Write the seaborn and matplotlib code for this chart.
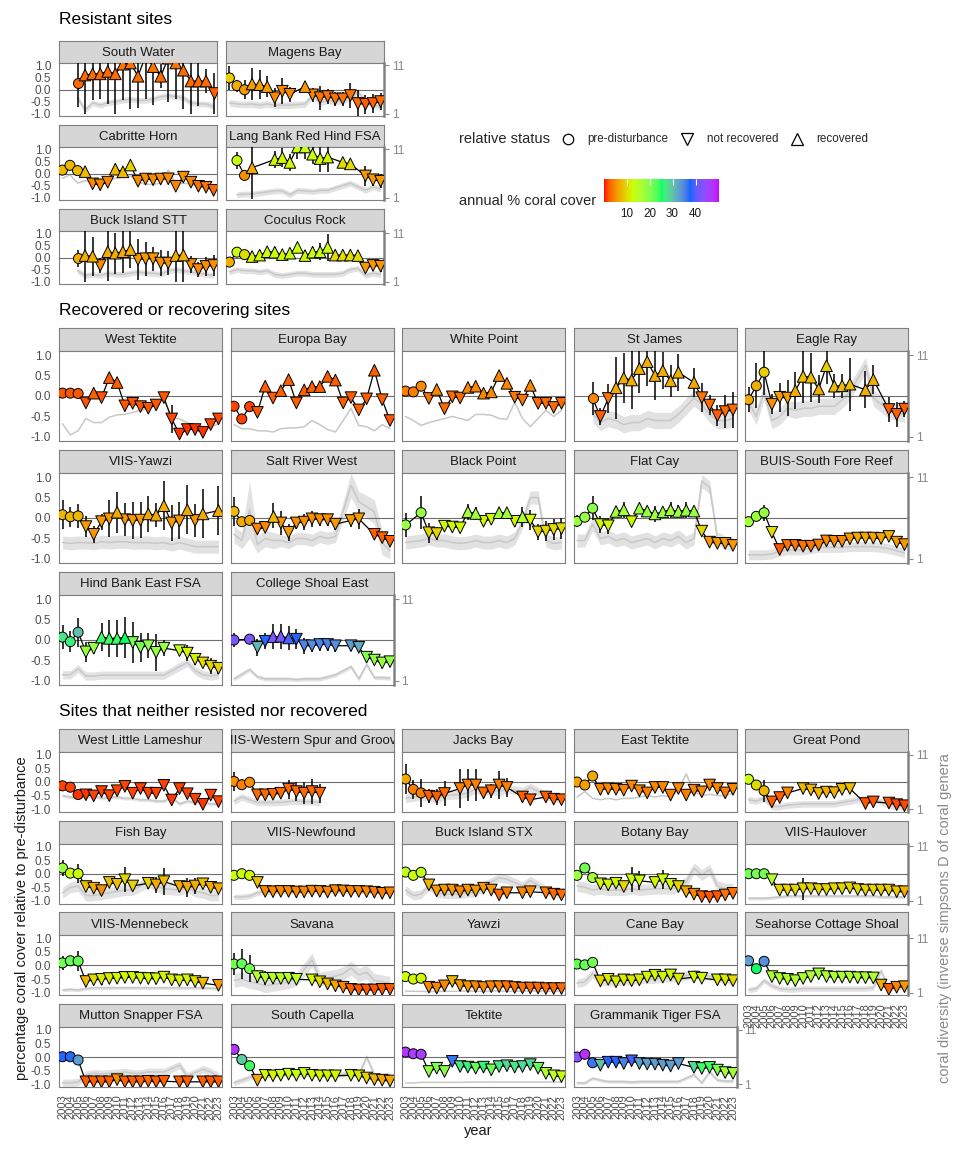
import numpy as np
import pandas as pd
import matplotlib
matplotlib.use("Agg")
import matplotlib.pyplot as plt
import seaborn as sns
from matplotlib.colors import ListedColormap, Normalize

YEARS = list(range(2003, 2024))

# ---------------- data: status per year ('o' pre-disturbance, 'v' not recovered, '^' recovered, '.' no survey)
# rel = coral cover relative to pre-disturbance, err = error bar half-length, cov = annual % coral cover,
# div = coral diversity (inverse Simpson D), dsd = ribbon half-width
# --- Resistant sites
sw_st = ".." "o" "^^^^^^^^^^^^^^^^^" "v"
sw_rel = [0.27, 0.6, 0.65, 0.65, 0.75, 0.65, 1.05, 1.1, 0.55, 1.4, 0.95, 0.55, 1.3, 1.1, 0.8, 0.35, 0.35, 0.35, -0.15]
sw_err = [1.0, 1.6, 1.1, 1.05, 1.35, 1.65, 1.5, 1.9, 1.3, 1.8, 1.6, 0.5, 1.8, 1.5, 1.6, 1.35, 1.05, 0.5, 0.85]
sw_cov = [3, 3, 3, 3, 3, 3, 3.5, 3.5, 3, 3.5, 3.5, 3, 3.5, 3.5, 3, 3, 3, 3, 2.5]
sw_div = [4.25, 1.75, 3.25, 2.75, 3.25, 3.5, 3.75, 4.0, 3.75, 3.75, 4.0, 4.5, 4.75, 4.5, 4.25, 3.25, 3.0, 3.0, 2.5]
sw_dsd = 0.6

mb_st = "ooo" "^^^" "vvv" "." "^" "vvvvvvvvvv"
mb_rel = [0.48, 0.16, -0.01, 0.23, 0.2, 0.12, -0.34, -0.07, -0.2, 0.12, -0.22, -0.34, -0.29, -0.39, -0.39, -0.25, -0.58, -0.61, -0.58, -0.5]
mb_err = [0.5, 0.25, 0.4, 0.65, 0.6, 0.45, 0.4, 0.55, 0.3, 0.15, 0.3, 0.5, 0.3, 0.3, 0.3, 0.5, 0.55, 0.4, 0.4, 0.35]
mb_cov = [9, 7, 5.5, 6, 6, 6, 4.5, 4.5, 4.5, 6, 4.5, 3.5, 3.5, 3.5, 3.5, 3.5, 3, 2.5, 2.5, 3]
mb_div = [3.25, 3.0, 2.9, 3.0, 2.75, 3.0, 2.75, 2.75, 2.75, 3.0, 4.75, 3.25, 3.75, 3.5, 3.75, 4.25, 5.5, 3.5, 3.0, 2.25]
mb_dsd = 0.7

ch_st = "ooo" "^" "vvv" "^^^" "vvvvvvvvvvv"
ch_rel = [0.14, 0.34, 0.12, 0.08, -0.43, -0.47, -0.36, 0.18, 0.07, 0.35, -0.32, -0.23, -0.26, -0.23, -0.22, -0.53, -0.15, -0.36, -0.53, -0.57, -0.7]
ch_err = 0
ch_cov = [7.5, 7.5, 7.5, 8, 4.5, 4.5, 4.5, 7.5, 7.5, 9.5, 5, 5, 5, 5, 5, 4.5, 5, 4.5, 3.5, 3.5, 3]
ch_div = [5.0, 5.75, 4.0, 4.5, 4.25, 4.0, 4.5, 5.0, 5.25, 5.5, 4.25, 3.75, 3.75, 4.0, 6.75, 3.75, 4.0, 3.75, 3.25, 3.25, 3.0]
ch_dsd = 0

lb_st = "." "oo" "^" ".." "^^^^^^^^" "." "^^" "." "vvv"
lb_rel = [0.54, -0.08, 0.24, 0.58, 0.66, 0.46, 1.1, 1.1, 0.8, 0.62, 0.68, 0.46, 0.4, -0.1, -0.26, -0.32]
lb_err = [0.35, 0.2, 1.3, 0.35, 0.4, 0.35, 0.5, 0.5, 0.4, 0.55, 0.6, 0.2, 0.2, 0.4, 0.25, 0.3]
lb_cov = [13, 5, 6.5, 12, 12, 12, 13, 13, 13, 12, 12, 10, 10, 5.5, 5.5, 5.5]
lb_div = [1.6, 1.75, 1.75, 2.4, 2.4, 1.6, 2.5, 2.4, 2.25, 2.5, 2.5, 3.5, 4.0, 2.5, 3.25, 2.75]
lb_dsd = 0.6

bt_st = ".." "o" "^^" "v" "^^^^" "vvvvv" "^^" "vvvv"
bt_rel = [-0.03, 0.08, 0.05, -0.33, 0.24, 0.18, 0.24, 0.33, -0.08, -0.05, -0.05, -0.23, -0.23, 0.08, 0.1, -0.29, -0.5, -0.37, -0.33]
bt_err = [0.35, 1.1, 0.8, 0.3, 1.2, 0.85, 0.9, 0.75, 0.85, 0.7, 0.5, 0.55, 0.5, 1.1, 1.1, 0.35, 0.3, 0.4, 0.45]
bt_cov = [7, 7, 7, 5, 7, 7, 7, 7, 5.5, 5.5, 5.5, 5, 5, 7, 7, 5, 4.5, 5, 5]
bt_div = [3.25, 2.25, 2.5, 2.25, 2.75, 2.5, 2.5, 2.75, 3.0, 2.75, 2.75, 2.5, 3.25, 3.5, 3.25, 3.0, 2.75, 2.5, 2.25]
bt_dsd = 0.6

cr_st = "ooo" "^^^^^^^^^^^^^^^" "vvv"
cr_rel = [-0.19, 0.22, 0.12, 0.04, 0.1, 0.24, 0.22, 0.12, 0.18, 0.42, 0.08, 0.22, 0.24, 0.42, 0.1, 0.1, 0.1, 0.08, -0.44, -0.33, -0.36]
cr_err = [0, 0.15, 0.2, 0.25, 0.2, 0.15, 0.2, 0.15, 0.15, 0.15, 0.25, 0.2, 0.35, 0.55, 0.2, 0.15, 0.1, 0.15, 0.1, 0.2, 0.25]
cr_cov = [7, 13, 10, 12, 12, 13, 13, 12, 13, 13, 12, 13, 13, 13, 10, 10, 10, 10, 5.5, 5.5, 5.5]
cr_div = [3.0, 3.5, 3.25, 3.25, 3.0, 3.25, 2.5, 2.25, 2.5, 2.75, 2.75, 2.5, 2.5, 2.5, 2.5, 2.75, 3.5, 3.75, 2.25, 2.75, 2.5]
cr_dsd = 0.6

# --- Recovered or recovering sites
wt_st = "ooo" "v" "^" "v" "^^" "vvvvvvvvvvvvv"
wt_rel = [0.07, 0.07, 0.06, -0.17, 0.07, -0.04, 0.45, 0.33, -0.24, -0.18, -0.26, -0.3, -0.22, -0.04, -0.56, -0.93, -0.82, -0.82, -0.89, -0.7, -0.56]
wt_err = [0, 0, 0, 0, 0, 0, 0, 0, 0, 0, 0, 0, 0, 0, 0.35, 0, 0, 0, 0, 0, 0]
wt_cov = [2, 2, 2, 2, 2.5, 2, 2.5, 2.5, 2, 2, 2, 2, 2, 2, 1.5, 0.8, 0.8, 0.8, 0.8, 1.5, 1.5]
wt_div = [2.6, 1.25, 1.75, 3.25, 2.75, 2.75, 3.4, 3.7, 3.75, 4.0, 4.25, 4.5, 5.0, 5.6, 3.4, 3.2, 2.75, 2.4, 2.25, 2.25, 2.6]
wt_dsd = 0

eb_st = "ooo" "v" "^" "v" "^^" "v" "^^^^^" "vvvv" "^" "vv"
eb_rel = [-0.25, -0.56, -0.26, -0.4, 0.24, -0.05, 0.13, 0.4, -0.17, 0.15, 0.23, 0.23, 0.48, 0.39, -0.17, -0.04, -0.34, -0.07, 0.63, -0.09, -0.6]
eb_err = 0
eb_cov = [1.2, 1.2, 1.2, 2, 2.5, 2.5, 2.5, 2.5, 2.5, 2.5, 2.5, 2.5, 2.5, 2.5, 2.5, 2.5, 2.5, 2.5, 2.5, 2.5, 2]
eb_div = [2.5, 2.0, 2.0, 1.75, 1.75, 1.6, 2.0, 2.1, 2.1, 2.25, 3.0, 2.5, 1.9, 1.6, 3.0, 4.5, 2.4, 2.25, 1.75, 2.5, 2.0]
eb_dsd = 0

wp_st = "ooo" "v" "^" "vvv" "^^^^^^" "vv" "^" "vvvv"
wp_rel = [0.12, 0.1, 0.24, -0.06, 0.16, -0.31, -0.02, -0.05, 0.21, 0.24, 0.07, 0.1, 0.5, 0.31, -0.03, -0.1, 0.26, -0.18, -0.18, -0.28, -0.18]
wp_err = 0
wp_cov = [4, 4, 4.5, 3.5, 4.5, 3, 3, 3, 4.5, 4.5, 4.5, 4.5, 4.5, 4.5, 3.5, 3.5, 4.5, 3, 3, 3, 3]
wp_div = [3.5, 3.0, 2.4, 2.75, 3.0, 3.25, 3.5, 3.25, 3.0, 3.75, 3.75, 3.65, 3.25, 3.15, 5.25, 3.25, 2.25, 3.25, 4.25, 3.5, 4.25]
wp_dsd = 0

sj_st = ".." "o" "vv" "^^^^^^^^^" "." "^" "vvvvv"
sj_rel = [-0.06, -0.5, -0.06, 0.2, 0.44, 0.39, 0.67, 0.84, 0.5, 0.62, 0.37, 0.58, 0.33, -0.04, -0.22, -0.48, -0.38, -0.34]
sj_err = [0.4, 0.2, 0.35, 0.75, 0.6, 0.7, 0.6, 0.6, 0.6, 0.45, 0.4, 0.45, 0.35, 0.35, 0.25, 0.25, 0.4, 0.45]
sj_cov = [4.5, 2.5, 3.5, 6.5, 7, 7, 7, 7, 7, 7, 7, 7, 6.5, 3.5, 3, 2.5, 3, 3]
sj_div = [3.75, 2.75, 3.25, 3.0, 2.5, 2.75, 2.75, 3.25, 3.0, 3.0, 3.0, 3.75, 5.75, 5.0, 3.75, 3.0, 3.0, 3.25]
sj_dsd = 1.0

er_st = "ooo" "vvv" "^^^^^^^^" "." "^^" "." "vvv"
er_rel = [-0.09, 0.25, 0.58, -0.2, -0.03, -0.05, 0.13, 0.48, 0.46, 0.17, 0.74, 0.24, 0.25, 0.29, 0.15, 0.4, -0.33, -0.45, -0.32]
er_err = [0.3, 0.55, 0.55, 0.25, 0.35, 0.45, 0.45, 0.65, 0.6, 0.35, 0.45, 0.3, 0.3, 0.65, 0.45, 0.35, 0.3, 0.3, 0.2]
er_cov = [6.5, 7, 9, 5, 6, 6, 7, 8, 8, 7, 9, 8, 8, 8, 7, 7, 2.5, 2.5, 2.5]
er_div = [5.25, 3.5, 6.5, 3.0, 3.5, 4.5, 4.25, 4.5, 4.5, 4.75, 4.75, 4.75, 5.5, 6.5, 9.75, 5.75, 4.25, 4.0, 3.75]
er_dsd = 1.0

vy_st = "ooo" "vvvv" "^" "vvv" "^^^" "vv" "^" "v" "^" "." "^"
vy_rel = [0.08, 0.03, 0.05, -0.21, -0.4, -0.09, -0.02, 0.14, -0.04, -0.06, -0.05, 0.1, 0.07, 0.3, -0.12, -0.07, 0.2, -0.06, 0.1, 0.18]
vy_err = [0.35, 0.25, 0.3, 0.25, 0.2, 0.2, 0.45, 0.5, 0.4, 0.45, 0.45, 0.45, 0.3, 0.6, 0.45, 0.45, 0.6, 0.4, 0.6, 0.6]
vy_cov = [7.5, 7.5, 7.5, 5.5, 5.5, 5.5, 5.5, 6.5, 5.5, 5.5, 5.5, 6.5, 6.5, 7, 5.5, 5.5, 6.5, 5.5, 6.5, 6.5]
vy_div = [3.0, 2.9, 3.0, 3.0, 2.9, 3.1, 3.0, 3.1, 3.1, 3.0, 3.0, 3.0, 2.9, 3.0, 2.75, 3.0, 2.75, 2.5, 2.5, 2.5]
vy_dsd = 0.8

srw_st = "ooo" "vv" "^" "vvvvvvvv" "." "vv" "." "vvv"
srw_rel = [0.16, -0.09, -0.06, -0.27, -0.23, 0.06, -0.12, -0.35, -0.12, -0.1, -0.02, -0.04, -0.04, -0.15, -0.06, -0.02, -0.4, -0.48, -0.57]
srw_err = [0.35, 0, 0, 0, 0, 0.3, 0.3, 0.2, 0.15, 0.2, 0.2, 0.15, 0.15, 0.15, 0.15, 0.25, 0, 0, 0]
srw_cov = [7.5, 6.5, 6.5, 4.5, 4.5, 7.5, 5.5, 5.5, 5, 5, 5, 5, 5, 5.5, 5.5, 5.5, 2.5, 2.5, 2.5]
srw_div = [4.0, 3.25, 7.0, 2.75, 3.5, 3.25, 3.25, 3.0, 3.5, 3.5, 3.25, 3.75, 3.5, 3.75, 10.0, 8.0, 6.75, 3.0, 2.0]
srw_dsd = [1.0, 1.0, 3.5, 1.0, 1.0, 1.0, 0.75, 0.75, 0.75, 0.75, 0.75, 0.75, 0.75, 0.75, 1.5, 1.25, 1.5, 1.5, 1.0]

bp_st = "o" "." "o" "vvvvv" "^^" "vv" "^^" "v" "^" "vvvvv"
bp_rel = [-0.17, 0.13, -0.36, -0.38, -0.2, -0.22, -0.24, 0.15, 0.11, -0.08, -0.03, 0.13, 0.13, -0.08, 0.03, -0.05, -0.34, -0.32, -0.28, -0.26]
bp_err = [0.3, 0.4, 0.25, 0.15, 0.1, 0.1, 0.05, 0.2, 0.15, 0.1, 0.1, 0.15, 0.1, 0.15, 0.25, 0.25, 0.2, 0.25, 0.25, 0.25]
bp_cov = [18, 18, 9.5, 9.5, 12, 12, 12, 17, 17, 12, 12, 17, 17, 12, 16, 12, 9.5, 9.5, 10, 10]
bp_div = [3.0, 3.25, 3.5, 3.25, 3.25, 3.0, 2.9, 3.0, 3.25, 3.0, 3.0, 3.25, 3.0, 3.5, 5.5, 8.5, 8.5, 3.25, 2.9, 3.0]
bp_dsd = 0.8

fc_st = "ooo" "vv" "^^" "v" "^^^^^^^^" "vvvvv"
fc_rel = [-0.08, 0.02, 0.24, -0.16, -0.19, 0.16, 0.2, -0.09, 0.24, 0.17, 0.1, 0.15, 0.2, 0.16, 0.19, 0.17, -0.32, -0.59, -0.62, -0.62, -0.67]
fc_err = [0.15, 0.1, 0.3, 0.2, 0.2, 0.1, 0.2, 0.1, 0.1, 0.1, 0.2, 0.1, 0.2, 0.15, 0.2, 0.1, 0.1, 0.05, 0.05, 0.05, 0.05]
fc_cov = [18, 18, 19, 12, 12, 17, 17, 12, 18, 18, 17, 18, 17, 18, 18, 18, 9.5, 5.5, 5.5, 5.5, 5.5]
fc_div = [3.25, 3.25, 5.25, 3.5, 3.75, 3.25, 3.5, 3.0, 3.25, 3.5, 3.0, 3.5, 3.25, 3.75, 3.0, 3.5, 10.5, 9.75, 3.5, 3.0, 2.75]
fc_dsd = 0.8

bs_st = "ooo" "vvvvvvvvvvvvvvvvvv"
bs_rel = [-0.09, 0.04, 0.13, -0.35, -0.77, -0.67, -0.67, -0.69, -0.69, -0.66, -0.56, -0.57, -0.57, -0.51, -0.49, -0.49, -0.49, -0.5, -0.45, -0.59, -0.65]
bs_err = [0, 0.12, 0.2, 0.15, 0.1, 0.1, 0.1, 0.1, 0.1, 0.08, 0.08, 0.08, 0.08, 0.1, 0.1, 0.1, 0.1, 0.1, 0.08, 0.08, 0.05]
bs_cov = [17, 18, 18, 10, 2, 3.5, 3.5, 3.5, 3.5, 4, 4.5, 4.5, 4.5, 5.5, 6.5, 6.5, 6.5, 6.5, 7, 5.5, 5.5]
bs_div = [1.5, 1.5, 1.5, 1.6, 1.9, 2.1, 2.1, 2.1, 2.25, 2.4, 2.4, 2.4, 2.4, 2.5, 2.5, 2.5, 2.5, 2.4, 2.25, 2.0, 1.75]
bs_dsd = 0.6

hb_st = "ooo" "vv" "^^^^" "vvvvv" "." "vvvvvv"
hb_rel = [0.07, -0.04, 0.19, -0.29, -0.2, 0.07, 0.04, 0.04, 0.06, -0.06, -0.18, -0.14, -0.3, -0.2, -0.26, -0.32, -0.47, -0.56, -0.64, -0.69]
hb_err = [0.3, 0.25, 0.35, 0.25, 0.15, 0.35, 0.45, 0.45, 0.5, 0.5, 0.35, 0.3, 0.45, 0.2, 0.1, 0.2, 0.15, 0.1, 0.2, 0.15]
hb_cov = [27, 26, 30, 18, 18, 24, 24, 24, 25, 21, 21, 19, 18, 18, 14, 12, 11.5, 10, 9.5, 9.5]
hb_div = [1.75, 1.75, 2.5, 1.6, 1.6, 1.7, 1.7, 1.7, 1.7, 1.7, 1.7, 1.7, 1.7, 1.7, 2.75, 3.25, 2.25, 1.75, 1.6, 1.75]
hb_dsd = 0.5

cs_st = "o" "." "o" "vv" "^^^" "vvvvvv" "." "vvvvvv"
cs_rel = [0.0, 0.02, -0.18, -0.03, 0.08, 0.09, 0.05, 0.02, -0.14, -0.14, -0.11, -0.11, -0.14, -0.14, -0.18, -0.42, -0.49, -0.56, -0.53]
cs_err = [0.18, 0, 0.2, 0.2, 0.3, 0.3, 0.3, 0.25, 0.2, 0.15, 0.15, 0.15, 0.15, 0.1, 0.1, 0.05, 0.05, 0.05, 0.05]
cs_cov = [42, 42, 31, 37, 42, 42, 39, 38, 35, 34, 35, 35, 34, 33, 32, 20, 19, 18, 19]
cs_div = [1.25, 2.4, 1.5, 1.25, 1.25, 1.25, 1.25, 1.15, 1.25, 1.25, 1.25, 1.5, 1.75, 2.75, 1.25, 3.0, 1.4, 1.4, 1.35]
cs_dsd = 0.25

# --- Sites that neither resisted nor recovered
wl_st = "ooo" "vvvvvvvvvvvvvvvvvv"
wl_rel = [-0.14, -0.19, -0.46, -0.47, -0.51, -0.35, -0.5, -0.32, -0.16, -0.41, -0.24, -0.41, -0.41, -0.12, -0.66, -0.24, -0.43, -0.63, -0.82, -0.48, -0.72]
wl_err = 0
wl_cov = [1.2, 1.2, 0.8, 0.8, 1.2, 1.2, 1.2, 1.2, 1.2, 1.2, 1.2, 1.2, 1.2, 1.2, 0.8, 1.2, 1.2, 1.2, 0.8, 1.2, 1.2]
wl_div = [3.5, 3.25, 3.25, 3.25, 3.5, 3.0, 3.25, 3.25, 3.0, 3.0, 2.75, 2.75, 2.5, 2.5, 3.25, 2.0, 2.5, 2.25, 2.25, 2.0, 2.0]
wl_dsd = 0.3

ws_st = "ooo" "vvvvvvvvv" "........."
ws_rel = [0.02, -0.1, -0.01, -0.47, -0.47, -0.45, -0.41, -0.26, -0.35, -0.41, -0.35, -0.41]
ws_err = [0.35, 0.2, 0.1, 0.05, 0.05, 0.1, 0.15, 0.35, 0.35, 0.4, 0.45, 0.35]
ws_cov = [5, 4, 5, 3, 3, 3, 3, 3, 3, 3, 3, 3]
ws_div = [2.5, 3.25, 2.75, 2.25, 2.25, 2.25, 2.25, 2.4, 2.5, 2.4, 2.4, 2.25]
ws_dsd = 0.6

jb_st = "ooo" "vvv" "." "vvvvvvv" "." "vv" "." "vvv"
jb_rel = [0.11, -0.27, -0.4, -0.52, -0.55, -0.42, -0.24, -0.11, -0.11, -0.4, -0.32, -0.11, -0.2, -0.55, -0.65, -0.55, -0.63, -0.65]
jb_err = [0.55, 0.35, 0.5, 0.25, 0.3, 0.45, 0.7, 0.6, 0.6, 0.2, 0.25, 0.5, 0.35, 0.2, 0.1, 0.15, 0.1, 0.1]
jb_cov = [6.5, 4, 4, 2.5, 2.5, 3, 4, 4, 4, 3, 3, 4, 4, 2.5, 2.5, 2.5, 2.5, 2.5]
jb_div = [3.0, 3.25, 3.5, 3.25, 3.0, 3.5, 3.75, 4.0, 4.75, 4.25, 4.5, 4.25, 4.75, 4.25, 5.0, 3.5, 3.25, 3.0]
jb_dsd = 0.8

et_st = "ooo" "vvvvvvvvvvvvvvvvvv"
et_rel = [0.0, -0.11, 0.22, -0.27, -0.25, -0.27, -0.3, -0.15, -0.32, -0.4, -0.2, -0.2, -0.48, -0.24, -0.48, -0.3, -0.36, -0.11, -0.24, -0.4, -0.27]
et_err = 0
et_cov = [6, 6, 6.5, 4.5, 4.5, 4.5, 4.5, 4.5, 4.5, 4, 4.5, 4.5, 4, 4.5, 4, 4.5, 4.5, 4.5, 4.5, 4, 4.5]
et_div = [3.25, 4.25, 3.0, 2.75, 3.0, 2.75, 3.0, 3.0, 3.25, 3.5, 3.25, 3.5, 3.25, 4.5, 7.5, 4.25, 3.5, 3.75, 3.5, 3.5, 4.0]
et_dsd = 0

gp_st = "ooo" "vvv" "." "vvvvvvv" "." "vv" "." "vvv"
gp_rel = [0.1, -0.11, -0.32, -0.73, -0.57, -0.4, -0.24, -0.29, -0.42, -0.37, -0.39, -0.27, -0.24, -0.79, -0.73, -0.77, -0.83, -0.87]
gp_err = [0, 0, 0.4, 0, 0, 0, 0.15, 0, 0, 0, 0, 0, 0.15, 0, 0.15, 0.1, 0, 0]
gp_cov = [13, 10, 7.5, 2.5, 2.5, 4.5, 7.5, 7.5, 7.5, 7, 7, 8, 8, 2, 2, 2, 1.5, 1.5]
gp_div = [2.75, 2.5, 3.0, 1.5, 1.5, 1.75, 2.0, 2.0, 2.0, 2.0, 2.0, 2.25, 2.5, 3.0, 3.0, 1.75, 1.5, 1.5]
gp_dsd = 0.6

fb_st = "ooo" "vvvvvvv" "." "vvv" "." "vvvvvv"
fb_rel = [0.21, 0.02, 0.0, -0.47, -0.53, -0.62, -0.32, -0.39, -0.22, -0.45, -0.35, -0.41, -0.29, -0.47, -0.5, -0.45, -0.37, -0.5, -0.55]
fb_err = [0.3, 0, 0.35, 0.1, 0.1, 0.15, 0.15, 0.1, 0.45, 0.15, 0.2, 0.3, 0.5, 0.2, 0.35, 0.3, 0.2, 0.1, 0.1]
fb_cov = [18, 13, 13, 8, 7, 5, 8, 8, 9.5, 9.5, 9.5, 6.5, 8, 7, 7, 7, 8, 7, 7]
fb_div = [2.5, 3.5, 3.75, 2.0, 2.0, 2.25, 2.5, 2.75, 3.0, 3.0, 4.5, 3.75, 3.25, 3.0, 3.5, 2.75, 2.5, 2.0, 2.0]
fb_dsd = 1.0

vn_st = "ooo" "vvvvvvvvvvvvvvvvvv"
vn_rel = [-0.06, 0.0, -0.06, -0.32, -0.65, -0.66, -0.65, -0.65, -0.67, -0.67, -0.64, -0.65, -0.67, -0.62, -0.63, -0.65, -0.65, -0.66, -0.68, -0.72, -0.7]
vn_err = [0, 0, 0, 0.05, 0.05, 0.05, 0.05, 0.05, 0.05, 0.05, 0.05, 0.05, 0.05, 0.05, 0.05, 0.05, 0.05, 0.05, 0.05, 0.05, 0.05]
vn_cov = [13, 13, 12, 8, 4.5, 4.5, 4.5, 4.5, 4.5, 4.5, 4.5, 4.5, 4.5, 4.5, 4.5, 4.5, 4.5, 4.5, 4, 4, 4]
vn_div = [1.75, 1.75, 1.9, 2.5, 2.75, 2.75, 2.9, 2.9, 2.9, 2.9, 2.9, 2.9, 3.0, 2.9, 2.9, 2.9, 2.9, 2.9, 2.75, 2.75, 2.6]
vn_dsd = 0.5

bx_st = "ooo" "vvvvvvvvvvv" "." "vv" "." "vvv"
bx_rel = [0.06, -0.06, 0.05, -0.41, -0.63, -0.6, -0.6, -0.66, -0.6, -0.63, -0.53, -0.6, -0.78, -0.7, -0.7, -0.66, -0.7, -0.75, -0.78]
bx_err = [0, 0, 0, 0.06, 0.06, 0.06, 0.06, 0.06, 0.06, 0.06, 0.06, 0.06, 0.06, 0.06, 0.06, 0.06, 0.06, 0.06, 0.06]
bx_cov = [14, 13, 14, 7.5, 5.5, 5.5, 5.5, 4.5, 5.5, 5.5, 5.5, 5.5, 3, 4, 4.5, 4.5, 4, 3, 3]
bx_div = [3.0, 2.0, 2.25, 3.75, 2.5, 2.25, 2.25, 2.25, 2.5, 2.5, 3.75, 4.5, 5.25, 5.0, 3.75, 4.75, 3.0, 2.5, 2.25]
bx_dsd = 0.8

bb_st = "ooo" "vvvvvv" "." "vvvvvvvvvvv"
bb_rel = [-0.06, 0.21, -0.14, -0.37, -0.41, -0.35, -0.47, -0.22, -0.26, -0.32, -0.22, -0.39, -0.47, -0.66, -0.75, -0.84, -0.86, -0.84, -0.78, -0.72]
bb_err = [0, 0, 0, 0.05, 0.05, 0.05, 0.05, 0.45, 0.35, 0.1, 0.35, 0.1, 0.1, 0.05, 0.05, 0.05, 0.05, 0.05, 0.05, 0.05]
bb_cov = [18, 21, 17, 12, 12, 12, 9.5, 13, 13, 12, 13, 12, 9.5, 6.5, 4.5, 2.5, 2, 2, 3.5, 3.5]
bb_div = [3.75, 3.5, 3.0, 3.25, 3.0, 3.0, 3.0, 3.25, 3.0, 3.25, 3.25, 3.25, 3.5, 4.5, 7.0, 5.75, 6.75, 3.75, 3.25, 3.25]
bb_dsd = 1.0

vh_st = "ooo" "vvvvvvvvvvvvvvvvvv"
vh_rel = [0.0, 0.0, 0.0, -0.22, -0.6, -0.6, -0.6, -0.55, -0.55, -0.58, -0.58, -0.55, -0.55, -0.52, -0.58, -0.6, -0.6, -0.6, -0.6, -0.66, -0.66]
vh_err = [0, 0, 0, 0, 0.05, 0.05, 0.05, 0.4, 0.1, 0.1, 0.1, 0.1, 0.1, 0.05, 0.05, 0.05, 0.05, 0.05, 0.05, 0.05, 0.1]
vh_cov = [21, 21, 21, 16, 9.5, 9.5, 9.5, 9.5, 9.5, 9.5, 9.5, 9.5, 9.5, 9.5, 9.5, 9.5, 9.5, 9, 9, 8.5, 7]
vh_div = [1.5, 1.5, 1.5, 1.6, 1.75, 1.9, 1.9, 1.9, 1.9, 1.9, 1.9, 1.9, 1.9, 1.9, 1.9, 1.9, 1.9, 1.75, 1.75, 1.75, 1.75]
vh_dsd = 0.3

vm_st = "ooo" "vvvvvvvvvvvvvvvv" "." "v"
vm_rel = [0.09, 0.17, 0.16, -0.59, -0.53, -0.51, -0.48, -0.47, -0.44, -0.44, -0.47, -0.48, -0.49, -0.43, -0.53, -0.56, -0.53, -0.59, -0.65, -0.73]
vm_err = [0.25, 0, 0.35, 0.05, 0.15, 0.2, 0.15, 0.1, 0.1, 0.1, 0.1, 0.1, 0.1, 0.15, 0.1, 0.1, 0.1, 0.1, 0.05, 0.05]
vm_cov = [21, 22, 22, 7.5, 10, 11, 11, 12, 12, 12, 12, 12, 12, 12, 11, 12, 12, 10, 7.5, 5.5]
vm_div = [1.5, 1.6, 1.5, 1.75, 1.9, 1.9, 1.9, 1.9, 1.9, 1.9, 1.9, 1.9, 1.9, 1.9, 1.9, 1.9, 1.9, 1.9, 1.9, 1.75]
vm_dsd = 0.3

sv_st = "ooo" "vvvvvv" "." "vvvvvvvvvvv"
sv_rel = [0.05, 0.06, -0.12, -0.41, -0.47, -0.47, -0.48, -0.47, -0.51, -0.53, -0.6, -0.68, -0.75, -0.8, -0.88, -0.9, -0.9, -0.9, -0.88, -0.88]
sv_err = [0.4, 0.55, 0.5, 0.25, 0.25, 0.2, 0.1, 0.1, 0.1, 0.15, 0.05, 0.05, 0.05, 0.05, 0.05, 0.05, 0.05, 0.05, 0.05, 0.05]
sv_cov = [21, 22, 21, 15, 15, 15, 15, 15, 15, 12, 10, 7.5, 6.5, 4.5, 2.5, 2, 2, 2, 2, 2]
sv_div = [3.25, 3.5, 3.0, 2.75, 2.25, 2.5, 2.75, 3.0, 3.5, 7.0, 3.5, 3.75, 4.0, 4.5, 5.5, 4.25, 4.75, 3.25, 3.0, 2.75]
sv_dsd = 1.25

yz_st = "ooo" "vvvvvvvvvvvvvvvvvv"
yz_rel = [-0.41, -0.5, -0.47, -0.8, -0.83, -0.75, -0.59, -0.74, -0.78, -0.78, -0.81, -0.78, -0.78, -0.78, -0.81, -0.83, -0.83, -0.83, -0.85, -0.85, -0.85]
yz_err = 0
yz_cov = [13, 12, 12, 4.5, 4.5, 4.5, 7.5, 5.5, 5.5, 4.5, 4.5, 4.5, 4.5, 3.5, 3.5, 3.5, 3, 3, 3, 3, 3]
yz_div = [1.3, 1.25, 1.25, 1.2, 1.2, 1.25, 1.25, 1.3, 1.3, 1.25, 1.25, 1.3, 1.3, 1.25, 1.25, 1.3, 1.3, 1.25, 1.25, 1.3, 1.3]
yz_dsd = 0

cb_st = "ooo" "vvvvvvvvvvv" "." "vv" "." "vvv"
cb_rel = [0.05, 0.02, 0.11, -0.57, -0.51, -0.6, -0.53, -0.56, -0.53, -0.43, -0.36, -0.43, -0.35, -0.5, -0.43, -0.47, -0.53, -0.53, -0.56]
cb_err = [0, 0, 0.15, 0.05, 0.05, 0.05, 0.05, 0.05, 0.05, 0.05, 0.1, 0.1, 0.15, 0.15, 0.05, 0.05, 0.05, 0.05, 0.1]
cb_cov = [22, 22, 21, 9.5, 11, 11, 11, 11, 11, 12, 12, 12, 12, 11, 12, 12, 11, 11, 9.5]
cb_div = [2.75, 3.0, 4.5, 3.25, 3.0, 3.0, 3.25, 3.25, 3.5, 3.5, 3.5, 3.75, 3.75, 3.75, 4.5, 4.25, 3.75, 3.5, 3.25]
cb_dsd = 0.8

sc_st = "ooo" "vvvvvvvvvvvvvvvvvv"
sc_rel = [0.17, -0.12, 0.15, -0.41, -0.48, -0.51, -0.56, -0.48, -0.41, -0.31, -0.41, -0.43, -0.43, -0.43, -0.45, -0.45, -0.46, -0.72, -0.88, -0.8, -0.78]
sc_err = [0, 0, 0.15, 0.05, 0.05, 0.05, 0.05, 0.05, 0.05, 0.05, 0.05, 0.05, 0.05, 0.05, 0.05, 0.05, 0.05, 0.05, 0.05, 0.05, 0.05]
sc_cov = [33, 25, 34, 16, 16, 16, 16, 16, 16, 17, 16, 16, 16, 16, 16, 16, 16, 7, 2.5, 4.5, 5.5]
sc_div = [1.5, 1.75, 3.25, 2.25, 1.75, 1.6, 1.6, 1.75, 1.75, 1.75, 1.75, 1.75, 1.75, 1.75, 1.75, 1.75, 1.9, 5.0, 1.75, 2.0, 2.25]
sc_dsd = 0.5

ms_st = "ooo" "vvvvvvvvvvv" "." "vv" "." "vvv"
ms_rel = [0.01, 0.01, -0.11, -0.91, -0.91, -0.91, -0.91, -0.83, -0.91, -0.91, -0.91, -0.89, -0.91, -0.89, -0.91, -0.91, -0.91, -0.91, -0.91]
ms_err = [0, 0, 0, 0.04, 0.04, 0.04, 0.04, 0.04, 0.04, 0.04, 0.04, 0.04, 0.04, 0.04, 0.04, 0.04, 0.04, 0.04, 0.04]
ms_cov = [38, 37, 33, 2.5, 2.5, 2.5, 2.5, 5, 2.5, 2.5, 2.5, 3, 2.5, 2.5, 2.5, 2.5, 2.5, 2, 2.5]
ms_div = [1.25, 1.25, 1.4, 2.75, 3.0, 2.9, 3.0, 3.1, 3.25, 3.0, 3.0, 3.25, 3.25, 3.25, 4.5, 2.5, 3.75, 3.25, 2.5]
ms_dsd = 0.7

sp_st = "ooo" "vvvvvvvvvvv" "." "vvvvvv"
sp_rel = [0.28, -0.09, -0.32, -0.85, -0.67, -0.69, -0.67, -0.63, -0.67, -0.6, -0.67, -0.69, -0.69, -0.69, -0.67, -0.69, -0.77, -0.83, -0.85, -0.88]
sp_err = [0, 0, 0, 0.05, 0.05, 0.05, 0.05, 0.05, 0.05, 0.05, 0.05, 0.05, 0.05, 0.05, 0.05, 0.05, 0.05, 0.05, 0.05, 0.05]
sp_cov = [47, 29, 24, 6.5, 12, 12, 13, 13, 13, 13, 12, 12, 12, 12, 12, 11, 9.5, 7.5, 6.5, 6.5]
sp_div = [1.25, 1.75, 2.25, 2.5, 2.75, 2.75, 2.9, 2.9, 2.9, 2.9, 2.9, 2.75, 2.75, 2.75, 2.9, 2.75, 6.0, 2.75, 2.5, 2.75]
sp_dsd = 0.5

tk_st = "ooo" "vvvvvvvvvvvvvvvvvv"
tk_rel = [0.18, 0.12, 0.1, -0.53, -0.41, -0.53, -0.16, -0.35, -0.37, -0.41, -0.37, -0.47, -0.35, -0.32, -0.37, -0.35, -0.28, -0.41, -0.6, -0.69, -0.72]
tk_err = 0
tk_cov = [47, 46, 46, 19, 20, 19, 36, 27, 26, 22, 26, 22, 27, 28, 27, 28, 28, 22, 15, 14, 13]
tk_div = [1.25, 1.25, 1.35, 1.35, 1.35, 1.35, 1.35, 1.35, 1.4, 1.4, 1.4, 1.4, 1.4, 1.4, 1.4, 1.4, 1.4, 1.4, 1.4, 1.4, 1.4]
tk_dsd = 0

gt_st = "ooo" "vvvvvvvvvvv" "." "vvvvvv"
gt_rel = [0.0, 0.1, -0.21, -0.3, -0.19, -0.19, -0.24, -0.14, -0.24, -0.26, -0.26, -0.3, -0.33, -0.24, -0.38, -0.42, -0.38, -0.48, -0.57, -0.6]
gt_err = [0, 0, 0.1, 0.05, 0.05, 0.05, 0.05, 0.05, 0.05, 0.05, 0.05, 0.05, 0.05, 0.05, 0.05, 0.05, 0.05, 0.05, 0.05, 0.05]
gt_cov = [43, 48, 36, 30, 38, 38, 35, 39, 33, 33, 33, 33, 33, 33, 28, 24, 24, 20, 17, 17]
gt_div = [1.25, 1.25, 2.1, 1.75, 1.5, 1.5, 1.5, 1.4, 1.5, 1.5, 1.5, 1.5, 1.5, 1.5, 2.75, 1.25, 3.25, 1.75, 1.6, 1.6]
gt_dsd = 0.3

SECTION_TITLES = ["Resistant sites", "Recovered or recovering sites", "Sites that neither resisted nor recovered"]
SEC1_ROWS = [["South Water", "Magens Bay"], ["Cabritte Horn", "Lang Bank Red Hind FSA"], ["Buck Island STT", "Coculus Rock"]]
SEC2_ROWS = [["West Tektite", "Europa Bay", "White Point", "St James", "Eagle Ray"],
             ["VIIS-Yawzi", "Salt River West", "Black Point", "Flat Cay", "BUIS-South Fore Reef"],
             ["Hind Bank East FSA", "College Shoal East"]]
SEC3_ROWS = [["West Little Lameshur", "VIIS-Western Spur and Groove", "Jacks Bay", "East Tektite", "Great Pond"],
             ["Fish Bay", "VIIS-Newfound", "Buck Island STX", "Botany Bay", "VIIS-Haulover"],
             ["VIIS-Mennebeck", "Savana", "Yawzi", "Cane Bay", "Seahorse Cottage Shoal"],
             ["Mutton Snapper FSA", "South Capella", "Tektite", "Grammanik Tiger FSA"]]
STATUS_LABELS = ["pre-disturbance", "not recovered", "recovered"]
CB_TICKS = [10, 20, 30, 40]

SITE_VARS = {
    "South Water": (sw_st, sw_rel, sw_err, sw_cov, sw_div, sw_dsd),
    "Magens Bay": (mb_st, mb_rel, mb_err, mb_cov, mb_div, mb_dsd),
    "Cabritte Horn": (ch_st, ch_rel, ch_err, ch_cov, ch_div, ch_dsd),
    "Lang Bank Red Hind FSA": (lb_st, lb_rel, lb_err, lb_cov, lb_div, lb_dsd),
    "Buck Island STT": (bt_st, bt_rel, bt_err, bt_cov, bt_div, bt_dsd),
    "Coculus Rock": (cr_st, cr_rel, cr_err, cr_cov, cr_div, cr_dsd),
    "West Tektite": (wt_st, wt_rel, wt_err, wt_cov, wt_div, wt_dsd),
    "Europa Bay": (eb_st, eb_rel, eb_err, eb_cov, eb_div, eb_dsd),
    "White Point": (wp_st, wp_rel, wp_err, wp_cov, wp_div, wp_dsd),
    "St James": (sj_st, sj_rel, sj_err, sj_cov, sj_div, sj_dsd),
    "Eagle Ray": (er_st, er_rel, er_err, er_cov, er_div, er_dsd),
    "VIIS-Yawzi": (vy_st, vy_rel, vy_err, vy_cov, vy_div, vy_dsd),
    "Salt River West": (srw_st, srw_rel, srw_err, srw_cov, srw_div, srw_dsd),
    "Black Point": (bp_st, bp_rel, bp_err, bp_cov, bp_div, bp_dsd),
    "Flat Cay": (fc_st, fc_rel, fc_err, fc_cov, fc_div, fc_dsd),
    "BUIS-South Fore Reef": (bs_st, bs_rel, bs_err, bs_cov, bs_div, bs_dsd),
    "Hind Bank East FSA": (hb_st, hb_rel, hb_err, hb_cov, hb_div, hb_dsd),
    "College Shoal East": (cs_st, cs_rel, cs_err, cs_cov, cs_div, cs_dsd),
    "West Little Lameshur": (wl_st, wl_rel, wl_err, wl_cov, wl_div, wl_dsd),
    "VIIS-Western Spur and Groove": (ws_st, ws_rel, ws_err, ws_cov, ws_div, ws_dsd),
    "Jacks Bay": (jb_st, jb_rel, jb_err, jb_cov, jb_div, jb_dsd),
    "East Tektite": (et_st, et_rel, et_err, et_cov, et_div, et_dsd),
    "Great Pond": (gp_st, gp_rel, gp_err, gp_cov, gp_div, gp_dsd),
    "Fish Bay": (fb_st, fb_rel, fb_err, fb_cov, fb_div, fb_dsd),
    "VIIS-Newfound": (vn_st, vn_rel, vn_err, vn_cov, vn_div, vn_dsd),
    "Buck Island STX": (bx_st, bx_rel, bx_err, bx_cov, bx_div, bx_dsd),
    "Botany Bay": (bb_st, bb_rel, bb_err, bb_cov, bb_div, bb_dsd),
    "VIIS-Haulover": (vh_st, vh_rel, vh_err, vh_cov, vh_div, vh_dsd),
    "VIIS-Mennebeck": (vm_st, vm_rel, vm_err, vm_cov, vm_div, vm_dsd),
    "Savana": (sv_st, sv_rel, sv_err, sv_cov, sv_div, sv_dsd),
    "Yawzi": (yz_st, yz_rel, yz_err, yz_cov, yz_div, yz_dsd),
    "Cane Bay": (cb_st, cb_rel, cb_err, cb_cov, cb_div, cb_dsd),
    "Seahorse Cottage Shoal": (sc_st, sc_rel, sc_err, sc_cov, sc_div, sc_dsd),
    "Mutton Snapper FSA": (ms_st, ms_rel, ms_err, ms_cov, ms_div, ms_dsd),
    "South Capella": (sp_st, sp_rel, sp_err, sp_cov, sp_div, sp_dsd),
    "Tektite": (tk_st, tk_rel, tk_err, tk_cov, tk_div, tk_dsd),
    "Grammanik Tiger FSA": (gt_st, gt_rel, gt_err, gt_cov, gt_div, gt_dsd),
}

# ---------------- build long table
problems = []
rows = []
for name, (st, rel, err, cov, div, dsd) in SITE_VARS.items():
    yrs = [y for y, ch in zip(YEARS, st) if ch != "."]
    sts = [ch for ch in st if ch != "."]
    n = len(yrs)
    if len(st) != 21:
        problems.append(f"{name}: status len {len(st)}")
    def full(v):
        if np.isscalar(v):
            return [v] * n
        return list(v)
    rel_l, err_l, cov_l, div_l, dsd_l = full(rel), full(err), full(cov), full(div), full(dsd)
    for lab, l in [("rel", rel_l), ("err", err_l), ("cov", cov_l), ("div", div_l), ("dsd", dsd_l)]:
        if len(l) != n:
            problems.append(f"{name}:{lab} {len(l)}!={n}")
    m = min(n, len(rel_l), len(err_l), len(cov_l), len(div_l), len(dsd_l))
    for i in range(m):
        rows.append(dict(site=name, year=yrs[i], status=sts[i], rel=rel_l[i], err=err_l[i],
                         cov=cov_l[i], div=div_l[i], dsd=dsd_l[i]))
DATA = pd.DataFrame(rows)

# ---------------- colour scale (rainbow(5) interpolated in Lab, as ggplot does)
def _srgb2lab(c):
    c = np.asarray(c, float)
    lin = np.where(c <= 0.04045, c / 12.92, ((c + 0.055) / 1.055) ** 2.4)
    M = np.array([[0.4124, 0.3576, 0.1805], [0.2126, 0.7152, 0.0722], [0.0193, 0.1192, 0.9505]])
    xyz = M @ lin / np.array([0.95047, 1.0, 1.08883])
    f = np.where(xyz > 0.008856, np.cbrt(xyz), 7.787 * xyz + 16 / 116)
    return np.array([116 * f[1] - 16, 500 * (f[0] - f[1]), 200 * (f[1] - f[2])])

def _lab2srgb(lab):
    L, a, b = lab
    fy = (L + 16) / 116
    fx = fy + a / 500
    fz = fy - b / 200
    f = np.array([fx, fy, fz])
    xyz = np.where(f ** 3 > 0.008856, f ** 3, (f - 16 / 116) / 7.787) * np.array([0.95047, 1.0, 1.08883])
    Mi = np.array([[3.2406, -1.5372, -0.4986], [-0.9689, 1.8758, 0.0415], [0.0557, -0.2040, 1.0570]])
    lin = np.clip(Mi @ xyz, 0, 1)
    return np.clip(np.where(lin <= 0.0031308, 12.92 * lin, 1.055 * lin ** (1 / 2.4) - 0.055), 0, 1)

STOPS = ["#FF0000", "#CCFF00", "#00FF66", "#0066FF", "#CC00FF"]
_labs = np.array([_srgb2lab([int(s[i:i + 2], 16) / 255 for i in (1, 3, 5)]) for s in STOPS])
_t = np.linspace(0, 1, 256)
_pos = np.linspace(0, 1, len(STOPS))
_cols = [_lab2srgb([np.interp(t, _pos, _labs[:, k]) for k in range(3)]) for t in _t]
CMAP = ListedColormap(_cols)
NORM = Normalize(0, 50)

# ---------------- style
sns.set_theme(style="white")
plt.rcParams["font.family"] = ["Liberation Sans", "DejaVu Sans"]
plt.rcParams["axes.unicode_minus"] = False

FW, FH = 960, 1152
fig = plt.figure(figsize=(FW / 100, FH / 100), dpi=100)

def px_axes(x, ytop, w, h):
    return fig.add_axes([x / FW, 1 - (ytop + h) / FH, w / FW, h / FH])

def d2y(d):
    return (np.asarray(d, float) - 1) / 5 - 1

def y2d(y):
    return 1 + 5 * (np.asarray(y, float) + 1)

MARKERS = [("o", "o", 52), ("v", "v", 70), ("^", "^", 70)]
BORDER = "#7f7f7f"

def draw_panel(ax, name, left, right, xt, xl):
    d = DATA[DATA["site"] == name].copy()
    d["ydiv"] = d2y(d["div"])
    lo = d2y(d["div"] - d["dsd"])
    hi = d2y(d["div"] + d["dsd"])
    ax.fill_between(d["year"], lo, hi, color="#e2e2e2", lw=0, zorder=1)
    sns.lineplot(data=d, x="year", y="ydiv", color="#c8c8c8", lw=1.1, estimator=None, ax=ax, zorder=2)
    ax.axhline(0, color="#6e6e6e", lw=0.8, zorder=3)
    sns.lineplot(data=d, x="year", y="rel", color="black", lw=0.9, estimator=None, ax=ax, zorder=4)
    e = d[d["err"] > 0]
    if len(e):
        ax.vlines(e["year"], e["rel"] - e["err"], e["rel"] + e["err"], color="black", lw=1.1, zorder=5)
    for code, mk, s in MARKERS:
        sub = d[d["status"] == code]
        if len(sub):
            sns.scatterplot(data=sub, x="year", y="rel", hue="cov", hue_norm=NORM, palette=CMAP,
                            marker=mk, s=s, edgecolor="black", linewidth=0.7, legend=False, ax=ax, zorder=6)
    ax.set_xlim(2002.55, 2023.45)
    ax.set_ylim(-1.1, 1.1)
    ax.set_xlabel("")
    ax.set_ylabel("")
    ax.set_yticks([-1, -0.5, 0, 0.5, 1])
    ax.set_xticks(YEARS)
    ax.tick_params(axis="both", length=3.5, width=0.6, color="#333333", labelcolor="#4d4d4d", pad=2)
    if left:
        ax.set_yticklabels(["-1.0", "-0.5", "0.0", "0.5", "1.0"], fontsize=8.5)
    else:
        ax.tick_params(axis="y", left=False, labelleft=False)
    if xl:
        ax.set_xticklabels([str(y) for y in YEARS], rotation=90, fontsize=8)
    else:
        ax.set_xticklabels([])
    if not xt:
        ax.tick_params(axis="x", bottom=False)
    for sp in ax.spines.values():
        sp.set_color(BORDER)
        sp.set_linewidth(0.8)
        sp.set_visible(True)
    if right:
        sec = ax.secondary_yaxis("right", functions=(y2d, d2y))
        sec.set_yticks([1, 11])
        sec.set_yticklabels(["1", "11"])
        sec.tick_params(colors="#888888", labelsize=8.5, length=3.5, width=0.8, pad=2)
        sec.spines["right"].set_color("#8a8a8a")
        sec.spines["right"].set_linewidth(1.8)

def draw_strip(x, ytop, w, h, name):
    sax = px_axes(x, ytop, w, h)
    sax.set_facecolor("#d6d6d6")
    sax.set_xticks([])
    sax.set_yticks([])
    sax.set_xlim(0, 1)
    sax.set_ylim(0, 1)
    for sp in sax.spines.values():
        sp.set_color(BORDER)
        sp.set_linewidth(0.8)
        sp.set_visible(True)
    sax.text(0.5, 0.47, name, ha="center", va="center", fontsize=9.5, color="#1a1a1a", clip_on=True)

COLS5 = [59, 230.5, 402, 573.5, 745]
LAYOUT = [
    dict(rows=SEC1_ROWS, title_y=20, cols=[59, 226], w=158, tops=[41, 125, 209], sh=22, ph=53, labels=False),
    dict(rows=SEC2_ROWS, title_y=311, cols=COLS5, w=163, tops=[328, 450, 572], sh=23, ph=90, labels=False),
    dict(rows=SEC3_ROWS, title_y=712, cols=COLS5, w=163, tops=[729, 820.7, 912.4, 1004], sh=23, ph=60, labels=True),
]

for title, L in zip(SECTION_TITLES, LAYOUT):
    fig.text(59 / FW, 1 - L["title_y"] / FH, title, fontsize=12.5, ha="left", va="center", color="black")
    rws = L["rows"]
    for r, row in enumerate(rws):
        for c, name in enumerate(row):
            x = L["cols"][c]
            top = L["tops"][r]
            draw_strip(x, top, L["w"], L["sh"], name)
            pax = px_axes(x, top + L["sh"], L["w"], L["ph"])
            last_r = max(rr for rr, rw in enumerate(rws) if len(rw) > c)
            bottom = r == last_r
            draw_panel(pax, name, left=(c == 0), right=(c == len(row) - 1), xt=bottom,
                       xl=bottom and L["labels"])

# ---------------- overlay: legends and axis titles
ov = fig.add_axes([0, 0, 1, 1])
ov.set_xlim(0, FW)
ov.set_ylim(FH, 0)
ov.axis("off")
ov.text(459, 139, "relative status", fontsize=10.5, ha="left", va="center")
for (mk, xm, xt_), lab in zip([("o", 568, 587), ("v", 687, 707), ("^", 797, 816)], STATUS_LABELS):
    ov.plot([xm], [139], marker=mk, ms=7.5 if mk == "o" else 9, mfc="white", mec="black", mew=0.9, ls="none")
    ov.text(xt_, 139, lab, fontsize=8.4, ha="left", va="center")
ov.text(459, 201, "annual % coral cover", fontsize=10.5, ha="left", va="center")

ov.text(22, 918, "percentage coral cover relative to pre-disturbance", rotation=90, fontsize=10.5,
        ha="center", va="center", color="#1a1a1a")
ov.text(945, 918, "coral diversity (inverse simpsons D of coral genera", rotation=90, fontsize=10.5,
        ha="center", va="center", color="#8a8a8a")
ov.text(478, 1131, "year", fontsize=10.5, ha="center", va="center", color="#1a1a1a")
if problems:
    ov.text(10, 1148, "; ".join(problems)[:300], fontsize=6, color="red", va="bottom")

cax = px_axes(603.5, 179, 115, 23)
grad = np.linspace(0, 50, 256).reshape(1, -1)
cax.imshow(grad, aspect="auto", cmap=CMAP, norm=NORM, extent=[0, 50, 0, 1])
cax.set_xticks(CB_TICKS)
cax.set_xticklabels([str(t) for t in CB_TICKS])
cax.set_yticks([])
cax.tick_params(axis="x", direction="in", length=4.5, width=0.8, color="white", labelsize=8.4,
                labelcolor="#1a1a1a", pad=4, top=True)
for sp in cax.spines.values():
    sp.set_visible(False)

fig.savefig("out.png", dpi=100)
